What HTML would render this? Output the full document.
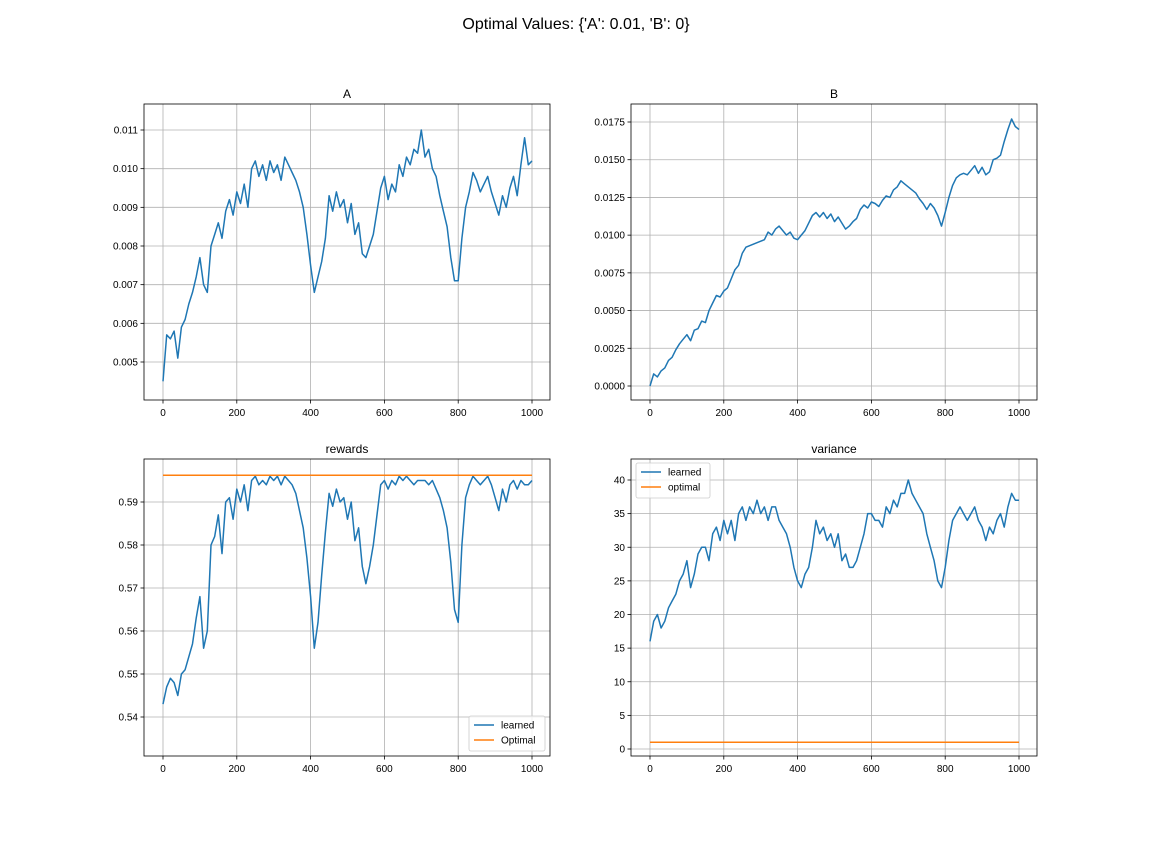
<!DOCTYPE html>
<html><head><meta charset="utf-8">
<style>
html,body{margin:0;padding:0;background:#fff;}
svg{display:block;font-family:"Liberation Sans","DejaVu Sans",sans-serif;}
</style></head>
<body>
<svg id="fig" width="1152" height="864" viewBox="0 0 1152 864">
<text x="576" y="29" text-anchor="middle" font-size="16" fill="#000">Optimal Values: {'A': 0.01, 'B': 0}</text>
</svg>
<script>
const steps = Array.from({length:101},(_,i)=>i*10);
const seriesA = [0.0045,0.0057,0.0056,0.0058,0.0051,0.0059,0.0061,0.0065,0.0068,0.0072,0.0077,0.0070,0.0068,0.0080,0.0083,0.0086,0.0082,0.0089,0.0092,0.0088,0.0094,0.0091,0.0096,0.0090,0.0100,0.0102,0.0098,0.0101,0.0097,0.0102,0.0099,0.0101,0.0097,0.0103,0.0101,0.0099,0.0097,0.0094,0.0090,0.0083,0.0075,0.0068,0.0072,0.0076,0.0082,0.0093,0.0089,0.0094,0.0090,0.0092,0.0086,0.0091,0.0083,0.0086,0.0078,0.0077,0.0080,0.0083,0.0089,0.0095,0.0098,0.0092,0.0096,0.0094,0.0101,0.0098,0.0103,0.0101,0.0105,0.0104,0.0110,0.0103,0.0105,0.0100,0.0098,0.0093,0.0089,0.0085,0.0077,0.0071,0.0071,0.0082,0.0090,0.0094,0.0099,0.0097,0.0094,0.0096,0.0098,0.0094,0.0091,0.0088,0.0093,0.0090,0.0095,0.0098,0.0093,0.0101,0.0108,0.0101,0.0102];
const seriesB = [0,0.0008,0.0006,0.0010,0.0012,0.0017,0.0019,0.0024,0.0028,0.0031,0.0034,0.0030,0.0037,0.0038,0.0043,0.0042,0.0050,0.0055,0.0060,0.0059,0.0063,0.0065,0.0071,0.0077,0.0080,0.0088,0.0092,0.0093,0.0094,0.0095,0.0096,0.0097,0.0102,0.0100,0.0104,0.0106,0.0103,0.0100,0.0102,0.0098,0.0097,0.0100,0.0103,0.0108,0.0113,0.0115,0.0112,0.0115,0.0111,0.0114,0.0109,0.0112,0.0108,0.0104,0.0106,0.0109,0.0111,0.0117,0.0120,0.0118,0.0122,0.0121,0.0119,0.0123,0.0126,0.0125,0.0130,0.0132,0.0136,0.0134,0.0132,0.0130,0.0128,0.0124,0.0121,0.0117,0.0121,0.0118,0.0113,0.0106,0.0115,0.0125,0.0133,0.0138,0.0140,0.0141,0.0140,0.0143,0.0146,0.0141,0.0145,0.0140,0.0142,0.0150,0.0151,0.0153,0.0162,0.0170,0.0177,0.0172,0.0170];
const seriesRewards = [0.543,0.547,0.549,0.548,0.545,0.550,0.551,0.554,0.557,0.563,0.568,0.556,0.560,0.580,0.582,0.587,0.578,0.590,0.591,0.586,0.593,0.590,0.594,0.588,0.595,0.596,0.594,0.595,0.594,0.596,0.595,0.596,0.594,0.596,0.595,0.594,0.592,0.588,0.584,0.577,0.568,0.556,0.562,0.573,0.583,0.592,0.589,0.593,0.590,0.591,0.586,0.590,0.581,0.584,0.575,0.571,0.575,0.580,0.587,0.594,0.595,0.593,0.595,0.594,0.596,0.595,0.596,0.595,0.594,0.595,0.595,0.595,0.594,0.595,0.593,0.591,0.588,0.584,0.576,0.565,0.562,0.580,0.591,0.594,0.596,0.595,0.594,0.595,0.596,0.594,0.591,0.588,0.593,0.590,0.594,0.595,0.593,0.595,0.594,0.594,0.595];
const optimalReward = [0.5962,0.5962];
const seriesVariance = [16,19,20,18,19,21,22,23,25,26,28,24,26,29,30,30,28,32,33,31,34,32,34,31,35,36,34,36,35,37,35,36,34,36,36,34,33,32,30,27,25,24,26,27,30,34,32,33,31,32,30,32,28,29,27,27,28,30,32,35,35,34,34,33,36,35,37,36,38,38,40,38,37,36,35,32,30,28,25,24,27,31,34,35,36,35,34,35,36,34,33,31,33,32,34,35,33,36,38,37,37];
const optimalVariance = [1,1];
const optimalSteps = [0,1000];
const xTicks = [0,200,400,600,800,1000];
const yTicksA = [0.005,0.006,0.007,0.008,0.009,0.010,0.011];
const yLabelsA = ["0.005","0.006","0.007","0.008","0.009","0.010","0.011"];
const yTicksB = [0,0.0025,0.005,0.0075,0.01,0.0125,0.015,0.0175];
const yLabelsB = ["0.0000","0.0025","0.0050","0.0075","0.0100","0.0125","0.0150","0.0175"];
const yTicksR = [0.54,0.55,0.56,0.57,0.58,0.59];
const yLabelsR = ["0.54","0.55","0.56","0.57","0.58","0.59"];
const yTicksV = [0,5,10,15,20,25,30,35,40];
const yLabelsV = ["0","5","10","15","20","25","30","35","40"];

const NS="http://www.w3.org/2000/svg";
const svg=document.getElementById('fig');
function mk(tag,attrs,parent){const e=document.createElementNS(NS,tag);for(const k in attrs)e.setAttribute(k,attrs[k]);(parent||svg).appendChild(e);return e;}

function panel(cfg){
  const g=mk('g',{});
  
  
  const {x0,x1,y0,y1}=cfg.box;
  const sx=v=>cfg.px0+(v-0)*(cfg.px1-cfg.px0)/1000;
  const sy=v=>cfg.py0+(v-cfg.v0)*(cfg.py1-cfg.py0)/(cfg.v1-cfg.v0);
  // grid
  xTicks.forEach(t=>{const gl=mk('line',{x1:sx(t),x2:sx(t),y1:y0,y2:y1,stroke:'#b0b0b0','stroke-width':0.8},g);
    
    });
  cfg.yTicks.forEach(t=>{const gl=mk('line',{x1:x0,x2:x1,y1:sy(t),y2:sy(t),stroke:'#b0b0b0','stroke-width':0.8},g);
    
    });
  // series
  cfg.series.forEach(s=>{
    const d=s.xs.map((x,i)=>(i?'L':'M')+sx(x).toFixed(1)+','+sy(s.ys[i]).toFixed(1)).join('');
    const p=mk('path',{d:d,fill:'none',stroke:s.color,'stroke-width':1.5,'stroke-linejoin':'round'},g);
    
    
  });
  // frame
  const fr=mk('rect',{x:x0,y:y0,width:x1-x0,height:y1-y0,fill:'none',stroke:'#000','stroke-width':0.8},g);
  
  
  // ticks
  xTicks.forEach(t=>{mk('line',{x1:sx(t),x2:sx(t),y1:y1,y2:y1+3.5,stroke:'#000','stroke-width':0.8},g);
    const tx=mk('text',{x:sx(t),y:y1+16,'text-anchor':'middle','font-size':10},g);tx.textContent=t;
    
    });
  cfg.yTicks.forEach((t,i)=>{mk('line',{x1:x0-3.5,x2:x0,y1:sy(t),y2:sy(t),stroke:'#000','stroke-width':0.8},g);
    const tx=mk('text',{x:x0-6,y:sy(t)+3.5,'text-anchor':'end','font-size':10},g);tx.textContent=cfg.yLabels[i];
    
    });
  const ti=mk('text',{x:(x0+x1)/2,y:y0-6,'text-anchor':'middle','font-size':12},g);ti.textContent=cfg.title;
  
  
  if(cfg.legend){
    const L=cfg.legend;
    const lg=mk('g',{},g);
    
    
    mk('rect',{x:L.x,y:L.y,width:L.w,height:35,rx:2,fill:'#fff','fill-opacity':0.8,stroke:'#ccc','stroke-width':0.8},lg);
    L.items.forEach((it,i)=>{
      const yy=L.y+9+i*15;
      mk('line',{x1:L.x+5,x2:L.x+25,y1:yy,y2:yy,stroke:it.color,'stroke-width':1.5},lg);
      const t=mk('text',{x:L.x+32,y:yy+3.5,'font-size':10},lg);t.textContent=it.label;
      
      
    });
  }
}
const C1='#1f77b4',C2='#ff7f0e';
panel({name:'a',title:'A',box:{x0:144,x1:550,y0:104,y1:400},px0:163,px1:532,v0:0.005,v1:0.011,py0:362,py1:130,
  yTicks:yTicksA,yLabels:yLabelsA,series:[{name:'a-line',xs:steps,ys:seriesA,color:C1}]});
panel({name:'b',title:'B',box:{x0:631,x1:1037,y0:104,y1:400},px0:650,px1:1019,v0:0,v1:0.0175,py0:386,py1:122,
  yTicks:yTicksB,yLabels:yLabelsB,series:[{name:'b-line',xs:steps,ys:seriesB,color:C1}]});
panel({name:'rewards',title:'rewards',box:{x0:144,x1:550,y0:459,y1:756},px0:163,px1:532,v0:0.54,v1:0.59,py0:717,py1:502,
  yTicks:yTicksR,yLabels:yLabelsR,series:[{name:'rewards-learned-line',xs:steps,ys:seriesRewards,color:C1},{name:'rewards-optimal-line',xs:optimalSteps,ys:optimalReward,color:C2}],
  legend:{x:469,y:716,w:76,items:[{label:'learned',color:C1},{label:'Optimal',color:C2}]}});
panel({name:'variance',title:'variance',box:{x0:631,x1:1037,y0:459,y1:756},px0:650,px1:1019,v0:0,v1:40,py0:749,py1:480,
  yTicks:yTicksV,yLabels:yLabelsV,series:[{name:'variance-learned-line',xs:steps,ys:seriesVariance,color:C1},{name:'variance-optimal-line',xs:optimalSteps,ys:optimalVariance,color:C2}],
  legend:{x:636,y:463,w:74,items:[{label:'learned',color:C1},{label:'optimal',color:C2}]}});
</script>
</body></html>
